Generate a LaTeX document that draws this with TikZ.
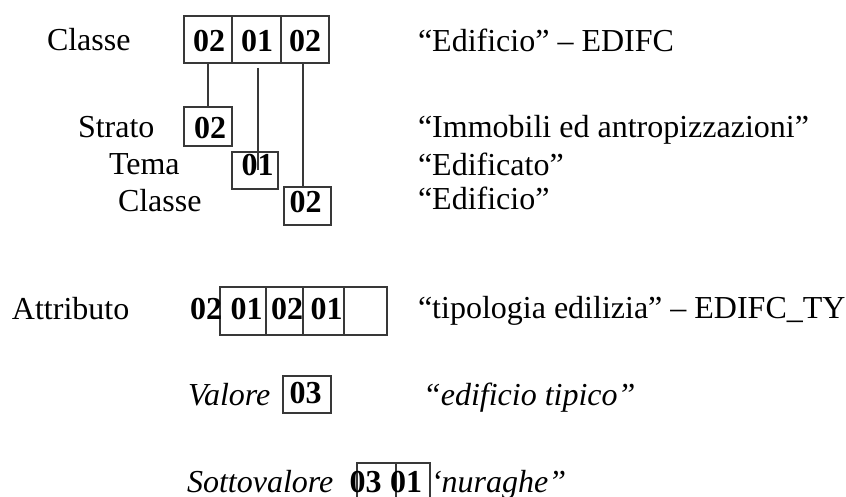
\documentclass[tikz,border=0pt]{standalone}
\usepackage{fontspec}
\setmainfont{Liberation Serif}
\begin{document}
\begin{tikzpicture}[x=1pt,y=-1pt,
  every node/.style={inner sep=0pt,outer sep=0pt,font=\fontsize{32}{38}\selectfont},
  lbl/.style={anchor=base west},
  num/.style={anchor=base,font=\fontsize{32}{38}\selectfont\bfseries},
  cell/.style={draw=black!78,line width=1.2pt,rectangle,minimum width=#1,minimum height=47pt},
  cellb/.style={draw=black!78,line width=1.2pt,rectangle,minimum width=48pt,minimum height=38pt},
  conn/.style={draw=black!78,line width=1.2pt}]
\clip (0,0) rectangle (846,497);
\fill[white] (0,0) rectangle (846,497);
% top code
\node[cell=48pt] (t1) at (208,39.5) {};
\node[cell=49pt] (t2) at (256.5,39.5) {};
\node[cell=48pt] (t3) at (305,39.5) {};
\node[num] (t1n) at (209,52) {02};
\node[num] (t2n) at (257,52) {01};
\node[num] (t3n) at (305,52) {02};
\node[lbl] (lc) at (47,51) {Classe};
\node[lbl] (rc) at (418,52) {“Edificio” – EDIFC};
% hierarchy
\node[cellb,minimum width=48pt,minimum height=39pt] (sb) at (208,126.5) {};
\node[num] (sbn) at (210,139) {02};
\node[cellb,minimum width=46pt,minimum height=37pt] (tb) at (255,170.5) {};
\node[num] (tbn) at (257.5,176) {01};
\node[cellb,minimum width=47pt,minimum height=38pt] (cb) at (307.5,206) {};
\node[num] (cbn) at (305.5,213) {02};
\node[lbl] (ls) at (78,138) {Strato};
\node[lbl] (lt) at (109,175) {Tema};
\node[lbl] (lc2) at (118,212) {Classe};
\node[lbl] (rs) at (418,138) {“Immobili ed antropizzazioni”};
\node[lbl] (rt) at (418,176) {“Edificato”};
\node[lbl] (rc2) at (418,210) {“Edificio”};
\coordinate (a2) at (258,68);
\coordinate (b2) at (258,170);
\draw[conn] (t1.south -| sb.north) -- (sb.north);
\draw[conn] (a2) -- (b2);
\draw[conn] (303,63) coordinate (a3) -- (a3 |- cb.north);
% attributo
\node[cell=46pt,minimum height=48pt] (a1) at (243,311) {};
\node[cell=37pt,minimum height=48pt] (a2c) at (284.5,311) {};
\node[cell=41pt,minimum height=48pt] (a3c) at (323.5,311) {};
\node[cell=43pt,minimum height=48pt] (a4c) at (365.5,311) {};
\node[num] (an0) at (206,319) {02};
\node[num] (an1) at (246.5,319) {01};
\node[num] (an2) at (287,319) {02};
\node[num] (an3) at (326.5,319) {01};
\node[lbl] (la) at (12,319) {Attributo};
\node[lbl] (ra) at (418,318) {“tipologia edilizia” – EDIFC\_TY};
% valore
\node[lbl,font=\fontsize{32}{38}\selectfont\itshape] (lv) at (188,405) {Valore};
\node[cellb,minimum width=48pt,minimum height=37pt] (vb) at (307,394.5) {};
\node[num] (vbn) at (305.5,403) {03};
\node[lbl,font=\fontsize{32}{38}\selectfont\itshape] (rv) at (423,405) {“edificio tipico”};
% sottovalore
\node[lbl,font=\fontsize{32}{38}\selectfont\itshape] (lsv) at (187,492) {Sottovalore};
\node[cellb,minimum width=39pt,minimum height=60pt] (s1) at (376.5,493) {};
\node[cellb,minimum width=34pt,minimum height=60pt] (s2) at (413,493) {};
\node[num] (s1n) at (365.5,492) {03};
\node[num] (s2n) at (406,492) {01};
\node[lbl,font=\fontsize{32}{38}\selectfont\itshape] (rsv) at (431,492) {‘nuraghe”};
\end{tikzpicture}
\end{document}
